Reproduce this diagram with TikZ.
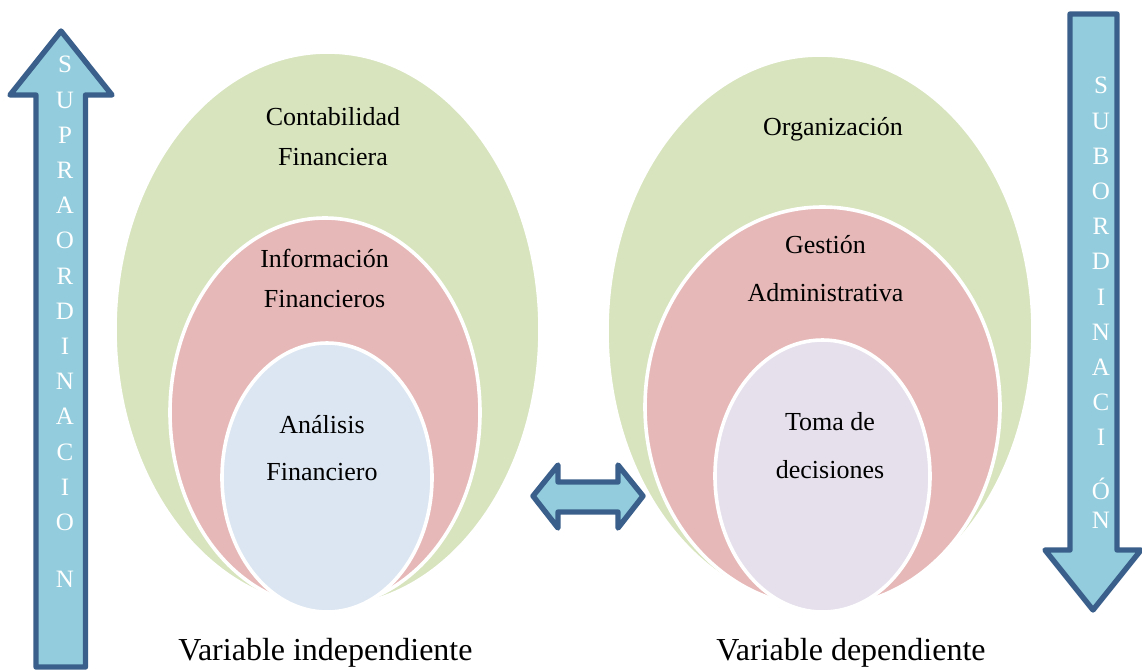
\documentclass[tikz,border=0pt]{standalone}
\usepackage{fontspec}
\setmainfont{Liberation Serif}
\usetikzlibrary{shapes.geometric, positioning}
\definecolor{ovalgreen}{HTML}{D7E4BD}
\definecolor{ovalpink}{HTML}{E6B9B8}
\definecolor{ovalblue}{HTML}{DCE6F2}
\definecolor{ovallilac}{HTML}{E5E0EC}
\definecolor{arrowfill}{HTML}{93CDDD}
\definecolor{arrowline}{HTML}{3A5F8B}

\begin{document}
\begin{tikzpicture}[
    x=0.5pt, y=-0.5pt,
    oval/.style={ellipse, draw=white, line width=1.8pt, inner sep=0pt},
    ovaltext/.style={align=center, inner sep=0pt, font=\fontsize{13}{20}\selectfont},
    vartext/.style={anchor=base, inner sep=0pt, font=\fontsize{16}{19}\selectfont},
    blockarrow/.style={draw=arrowline, fill=arrowfill, line width=2.7pt, line join=round},
    letters/.style={anchor=north, align=center, inner sep=0pt, text=white, font=\fontsize{12.5}{17.6}\selectfont}
]
    \useasboundingbox (0,0) rectangle (1142,670);

    % Left block: independent variable
    \node[oval, fill=ovalgreen, minimum width=212.5pt, minimum height=277.5pt] (contab) at (327.5,329.5) {};
    \node[oval, fill=ovalpink, minimum width=155pt, minimum height=194.5pt] (infofin) at (325,412.5) {};
    \node[oval, fill=ovalblue, minimum width=105pt, minimum height=134.5pt] (analisis) at (327,477.5) {};

    \node[ovaltext] (contabT) at (333,137) {Contabilidad\\Financiera};
    \node[ovaltext] (infofinT) at (324.5,278) {Información\\Financieros};
    \node[ovaltext] (analisisT) at (322,448) {Análisis\\[3.5pt]Financiero};
    \node[vartext] (indep) at (325.5,660) {Variable independiente};

    % Right block: dependent variable
    \node[oval, fill=ovalgreen, minimum width=213pt, minimum height=276pt] (organiz) at (820,331) {};
    \node[oval, fill=ovalpink, minimum width=177.5pt, minimum height=200pt] (gestion) at (822.5,407) {};
    \node[oval, fill=ovallilac, minimum width=107.5pt, minimum height=136pt] (decision) at (822.5,476) {};

    \node[ovaltext] (organizT) at (833,129) {Organización};
    \node[ovaltext] (gestionT) at (825.5,269) {Gestión\\[4pt]Administrativa};
    \node[ovaltext] (decisionT) at (830,446) {Toma de\\[4pt]decisiones};
    \node[vartext] (dep) at (851,660) {Variable dependiente};

    % Block arrows
    \draw[blockarrow] (36,667) -- (36,95) -- (10,95) -- (61,31) -- (112,95) -- (85.5,95) -- (85.5,667) -- cycle;
    \draw[blockarrow] (1070,14) -- (1070,550) -- (1045,550) -- (1093,610) -- (1141,550) -- (1117,550) -- (1117,14) -- cycle;
    \draw[blockarrow] (533,496) -- (558,465) -- (558,482) -- (618,482) -- (618,465) -- (643,496)
        -- (618,528) -- (618,512) -- (558,512) -- (558,528) -- cycle;

    % Letters along the arrows
    \node[letters] (supra) at (65,56) {S\\U\\P\\R\\A\\O\\R\\D\\I\\N\\A\\C\\I\\O\\[11pt]N};
    \node[letters] (subor) at (1101,77) {S\\U\\B\\O\\R\\D\\I\\N\\A\\C\\I\\[9pt]Ó\\[-3pt]N};
\end{tikzpicture}
\end{document}
